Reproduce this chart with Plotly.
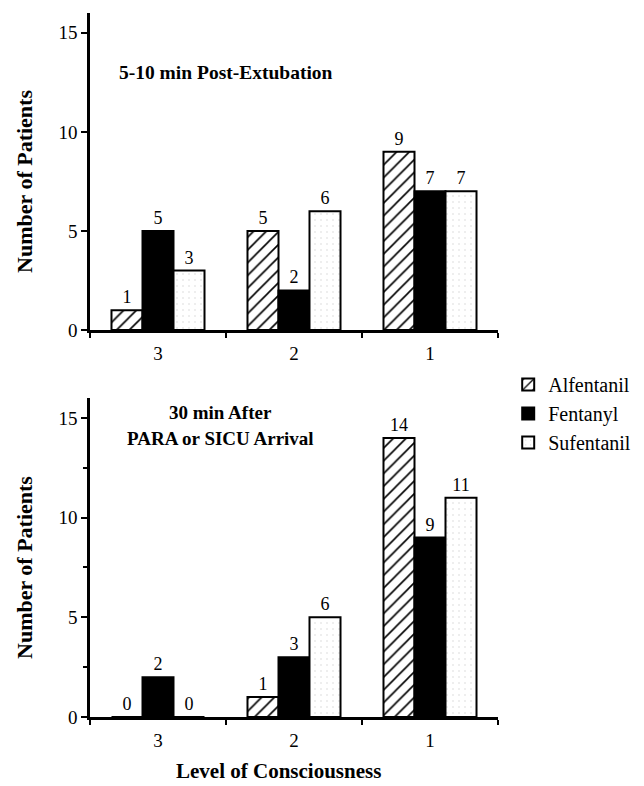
import plotly.graph_objects as go

levels = ["3", "2", "1"]
drugs = ["Alfentanil", "Fentanyl", "Sufentanil"]

# Top panel: 5-10 min Post-Extubation (bar heights as drawn, labels as printed)
top_alf = [1, 5, 9]
top_fen = [5, 2, 7]
top_suf = [3, 6, 7]
top_alf_lbl = ["1", "5", "9"]
top_fen_lbl = ["5", "2", "7"]
top_suf_lbl = ["3", "6", "7"]

# Bottom panel: 30 min After PARA or SICU Arrival
bot_alf = [0, 1, 14]
bot_fen = [2, 3, 9]
bot_suf = [0, 5, 11]
bot_alf_lbl = ["0", "1", "14"]
bot_fen_lbl = ["2", "3", "9"]
bot_suf_lbl = ["0", "6", "11"]

FONT = "Liberation Serif"

styles = {
    "Alfentanil": dict(color="white", line=dict(color="black", width=2),
                       pattern=dict(shape="/", fgcolor="black", bgcolor="white",
                                    fillmode="replace", size=9, solidity=0.18)),
    "Fentanyl": dict(color="black", line=dict(color="black", width=2)),
    "Sufentanil": dict(color="white", line=dict(color="black", width=2),
                       pattern=dict(shape=".", fgcolor="#d0d0d0", bgcolor="white",
                                    fillmode="replace", size=6, solidity=0.04)),
}

fig = go.Figure()

panels = [
    ("x", "y", [top_alf, top_fen, top_suf], [top_alf_lbl, top_fen_lbl, top_suf_lbl], True),
    ("x2", "y2", [bot_alf, bot_fen, bot_suf], [bot_alf_lbl, bot_fen_lbl, bot_suf_lbl], False),
]
for xa, ya, vals, lbls, show in panels:
    for i, d in enumerate(drugs):
        fig.add_trace(go.Bar(
            x=levels, y=vals[i], name=d, text=lbls[i], textposition="outside",
            textfont=dict(family=FONT, size=18, color="black"),
            marker=styles[d], xaxis=xa, yaxis=ya, showlegend=show,
            legendgroup=d, cliponaxis=False,
        ))

axis_common_x = dict(
    type="category", showline=True, linecolor="black", linewidth=3,
    ticks="outside", tickson="boundaries", ticklen=5, tickwidth=2, tickcolor="black",
    tickfont=dict(family=FONT, size=19, color="black"), ticklabelstandoff=4,
    showgrid=False, zeroline=False, range=[-0.5, 2.5],
)
axis_common_y = dict(
    range=[0, 16], showline=True, linecolor="black", linewidth=2.5,
    ticks="outside", ticklen=6, tickwidth=2, tickcolor="black",
    tickvals=[0, 5, 10, 15], tickfont=dict(family=FONT, size=19, color="black"),
    showgrid=False, zeroline=False,
)

title_font = dict(family=FONT, size=19, color="black")

fig.update_layout(
    width=636, height=778,
    margin=dict(l=82, r=146, t=5, b=69),
    paper_bgcolor="white", plot_bgcolor="white",
    barmode="group", bargap=0.316, bargroupgap=0,
    xaxis=dict(axis_common_x, domain=[0, 1], anchor="y"),
    yaxis=dict(axis_common_y, domain=[0.5497, 1.0], anchor="x"),
    xaxis2=dict(axis_common_x, domain=[0, 1], anchor="y2"),
    yaxis2=dict(axis_common_y, domain=[0, 0.4531], anchor="x2",
                minor=dict(tickvals=[2.5, 7.5, 12.5], ticks="outside", ticklen=4,
                           tickwidth=2, tickcolor="black")),
    legend=dict(x=1.025, y=0.50, xanchor="left", yanchor="top",
                font=dict(family=FONT, size=20, color="black"),
                tracegroupgap=0, bgcolor="rgba(0,0,0,0)"),
    showlegend=True,
    annotations=[
        dict(text="<b>5-10 min Post-Extubation</b>", xref="x domain", yref="y domain",
             x=0.066, y=0.811, xanchor="left", yanchor="middle", showarrow=False,
             font=dict(family=FONT, size=19.5, color="black")),
        dict(text="<b>30 min After</b>", xref="x2 domain", yref="y2 domain",
             x=0.321, y=0.956, xanchor="center", yanchor="middle", showarrow=False,
             font=title_font),
        dict(text="<b>PARA or SICU Arrival</b>", xref="x2 domain", yref="y2 domain",
             x=0.321, y=0.874, xanchor="center", yanchor="middle", showarrow=False,
             font=title_font),
        dict(text="<b>Number of Patients</b>", xref="x domain", yref="y domain",
             x=-0.162, y=0.47, textangle=-90, xanchor="center", yanchor="middle",
             showarrow=False, font=dict(family=FONT, size=22, color="black")),
        dict(text="<b>Number of Patients</b>", xref="x2 domain", yref="y2 domain",
             x=-0.162, y=0.47, textangle=-90, xanchor="center", yanchor="middle",
             showarrow=False, font=dict(family=FONT, size=22, color="black")),
        dict(text="<b>Level of Consciousness</b>", xref="x2 domain", yref="y2 domain",
             x=0.463, y=-0.168, xanchor="center", yanchor="middle", showarrow=False,
             font=dict(family=FONT, size=21, color="black")),
    ],
)

fig.write_html("out.html")
